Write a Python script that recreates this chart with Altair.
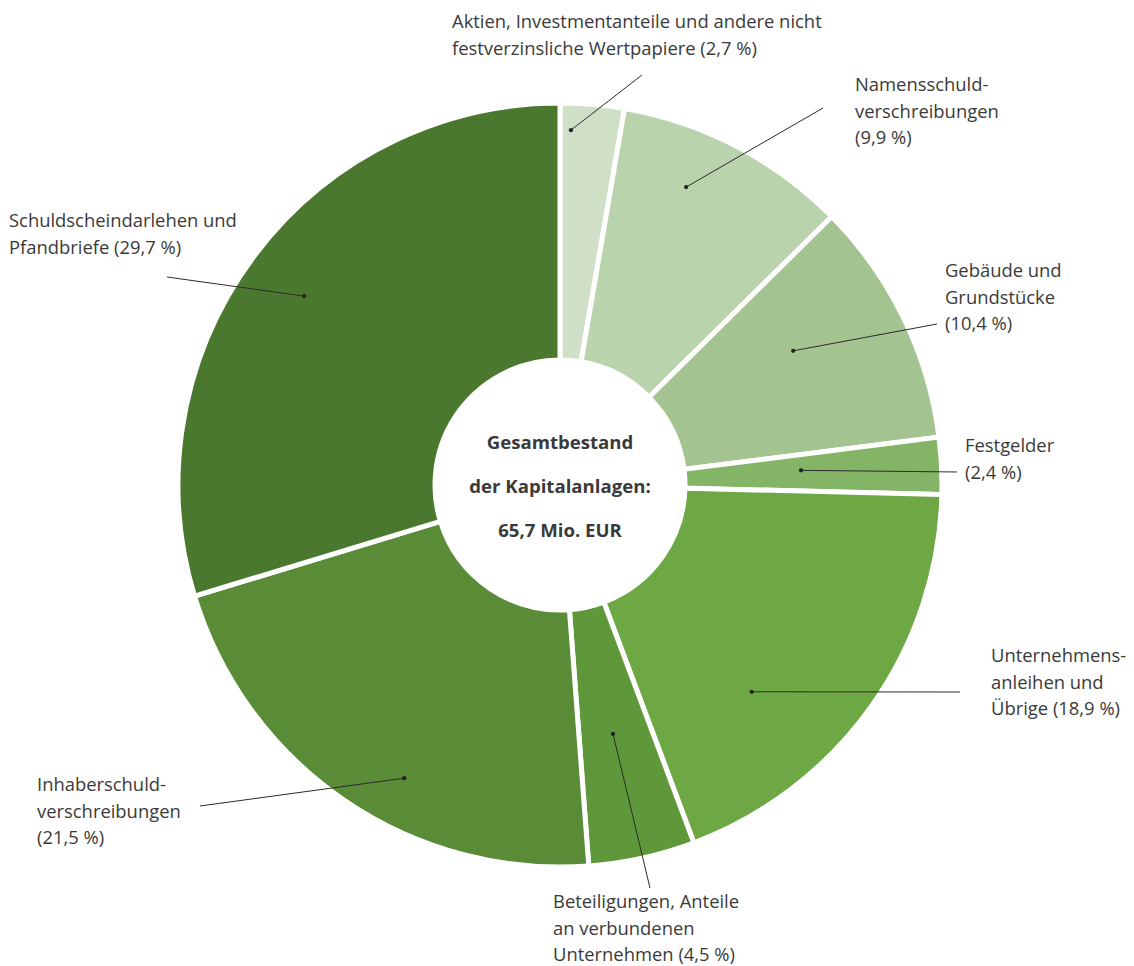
import math
import altair as alt
import pandas as pd

# ---- data ----
categories = [
    "Aktien, Investmentanteile und andere nicht festverzinsliche Wertpapiere",
    "Namensschuldverschreibungen",
    "Gebäude und Grundstücke",
    "Festgelder",
    "Unternehmensanleihen und Übrige",
    "Beteiligungen, Anteile an verbundenen Unternehmen",
    "Inhaberschuldverschreibungen",
    "Schuldscheindarlehen und Pfandbriefe",
]
shares = [2.7, 9.9, 10.4, 2.4, 18.9, 4.5, 21.5, 29.7]
colors = ["#d0e0c7", "#b9d3ad", "#a3c490", "#84b566", "#6ea845", "#5f983b", "#5a8b36", "#4b782f"]
label_lines = [
    ["Aktien, Investmentanteile und andere nicht", "festverzinsliche Wertpapiere (2,7 %)"],
    ["Namensschuld-", "verschreibungen", "(9,9 %)"],
    ["Gebäude und", "Grundstücke", "(10,4 %)"],
    ["Festgelder", "(2,4 %)"],
    ["Unternehmens-", "anleihen und", "Übrige (18,9 %)"],
    ["Beteiligungen, Anteile", "an verbundenen", "Unternehmen (4,5 %)"],
    ["Inhaberschuld-", "verschreibungen", "(21,5 %)"],
    ["Schuldscheindarlehen und", "Pfandbriefe (29,7 %)"],
]
center_lines = ["Gesamtbestand", "der Kapitalanlagen:", "65,7 Mio. EUR"]

# ---- layout ----
W, H = 1118, 958
CX, CY = 552, 477
R_IN, R_OUT = 125, 382
label_x = [444, 847, 937, 957, 983, 545, 29, 1]
label_y = [20, 83, 269, 444, 654, 900, 783, 219]
line_gap = 26.7
line_end_x = [634, 815, 929, 949, 952, 642, 192, 159]
line_end_y = [67, 100, 316, 464, 684, 880, 798, 269]
dot_angle_offset = [-3.1, -4.6, -4.0, -0.6, 11.7, 0.4, -6.4, -0.1]
dot_radius = [355, 323.5, 269, 241.5, 282, 254.5, 332, 318]

# ---- derived tables ----
pie = pd.DataFrame({"cat": categories, "share": shares, "idx": list(range(len(shares)))})

total = sum(shares)
cum = 0.0
dots, lines, texts = [], [], []
for i, s in enumerate(shares):
    mid = (cum + s / 2) / total * 360 + dot_angle_offset[i]
    cum += s
    a = math.radians(mid)
    dx = CX + dot_radius[i] * math.sin(a)
    dy = CY - dot_radius[i] * math.cos(a)
    dots.append({"x": dx, "y": dy})
    lines.append({"x": dx, "y": dy, "x2": line_end_x[i], "y2": line_end_y[i]})
    for j, t in enumerate(label_lines[i]):
        texts.append({"x": label_x[i], "y": label_y[i] + j * line_gap, "t": t})
center = pd.DataFrame({"t": center_lines, "y": [CY - 42 + 44 * k for k in range(3)], "x": [CX] * 3})

xs = alt.Scale(domain=[0, W], range=[0, W])
ys = alt.Scale(domain=[0, H], range=[0, H])
FONT = "Open Sans"

arcs = alt.Chart(pie).mark_arc(
    innerRadius=R_IN, outerRadius=R_OUT, stroke="white", strokeWidth=5
).encode(
    theta=alt.Theta("share:Q", stack=True),
    order=alt.Order("idx:Q"),
    color=alt.Color("cat:N", scale=alt.Scale(domain=categories, range=colors), legend=None),
    x=alt.value(CX),
    y=alt.value(CY),
)

rules = alt.Chart(pd.DataFrame(lines)).mark_rule(color="#2b2b2b", strokeWidth=1).encode(
    x=alt.X("x:Q", scale=xs, axis=None),
    y=alt.Y("y:Q", scale=ys, axis=None),
    x2="x2:Q",
    y2="y2:Q",
)

pts = alt.Chart(pd.DataFrame(dots)).mark_circle(color="#222222", opacity=1, size=18).encode(
    x=alt.X("x:Q", scale=xs, axis=None),
    y=alt.Y("y:Q", scale=ys, axis=None),
)

labels = alt.Chart(pd.DataFrame(texts)).mark_text(
    align="left", baseline="alphabetic", font=FONT, fontSize=18.4, color="#3a3a3a"
).encode(
    x=alt.X("x:Q", scale=xs, axis=None),
    y=alt.Y("y:Q", scale=ys, axis=None),
    text="t:N",
)

ctext = alt.Chart(center).mark_text(
    align="center", baseline="middle", font=FONT, fontSize=18.6, fontWeight="bold", color="#3a3a3a"
).encode(
    x=alt.X("x:Q", scale=xs, axis=None),
    y=alt.Y("y:Q", scale=ys, axis=None),
    text="t:N",
)

chart = alt.layer(arcs, rules, pts, labels, ctext).properties(
    width=W, height=H, padding=0, autosize=alt.AutoSizeParams(type="none")
).configure_view(stroke=None)

chart.save("out.html", embed_options={"renderer": "svg", "actions": False})
